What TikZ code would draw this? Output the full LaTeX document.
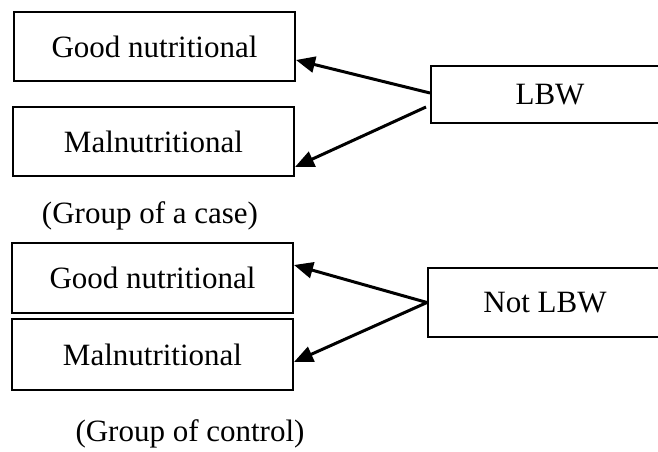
\documentclass[tikz,border=0pt]{standalone}
\usepackage{fontspec}
\setmainfont{Liberation Serif}
\usetikzlibrary{arrows.meta}
\begin{document}
\begin{tikzpicture}[x=1pt,y=-1pt,
  box/.style={draw=black,line width=2pt,minimum width=281pt,minimum height=69pt,inner sep=0pt,font=\fontsize{31}{37}\selectfont},
  lbl/.style={inner sep=0pt,font=\fontsize{31}{37}\selectfont},
  arr/.style={line width=3pt,-{Triangle[length=19pt,width=16pt]}}]
\useasboundingbox[fill=white] (0,0) rectangle (658,452);
\node[box] (b1) at (154.5,46.5) {Good nutritional};
\node[box] (b2) at (153.5,141.5) {Malnutritional};
\node[box,minimum width=238pt,minimum height=57pt] (lbw) at (550,94.5) {LBW};
\node[lbl] (case) at (150,216) {(Group of a case)};
\node[box,minimum height=70pt] (b3) at (152.5,278) {Good nutritional};
\node[box,minimum height=71pt] (b4) at (152.5,354.5) {Malnutritional};
\node[box,minimum width=234pt] (nlbw) at (545,302.5) {Not LBW};
\node[lbl] (ctrl) at (190,434) {(Group of control)};
\draw[arr] ([yshift=1.5pt]lbw.west) -- ([yshift=-13.5pt]b1.east);
\draw[arr] ([yshift=-12.5pt,xshift=-4pt]lbw.west) -- ([yshift=-25.5pt]b2.east);
\draw[arr] (nlbw.west) -- ([yshift=13pt]b3.east);
\draw[arr] (nlbw.west) -- ([yshift=-7.5pt]b4.east);
\end{tikzpicture}
\end{document}
